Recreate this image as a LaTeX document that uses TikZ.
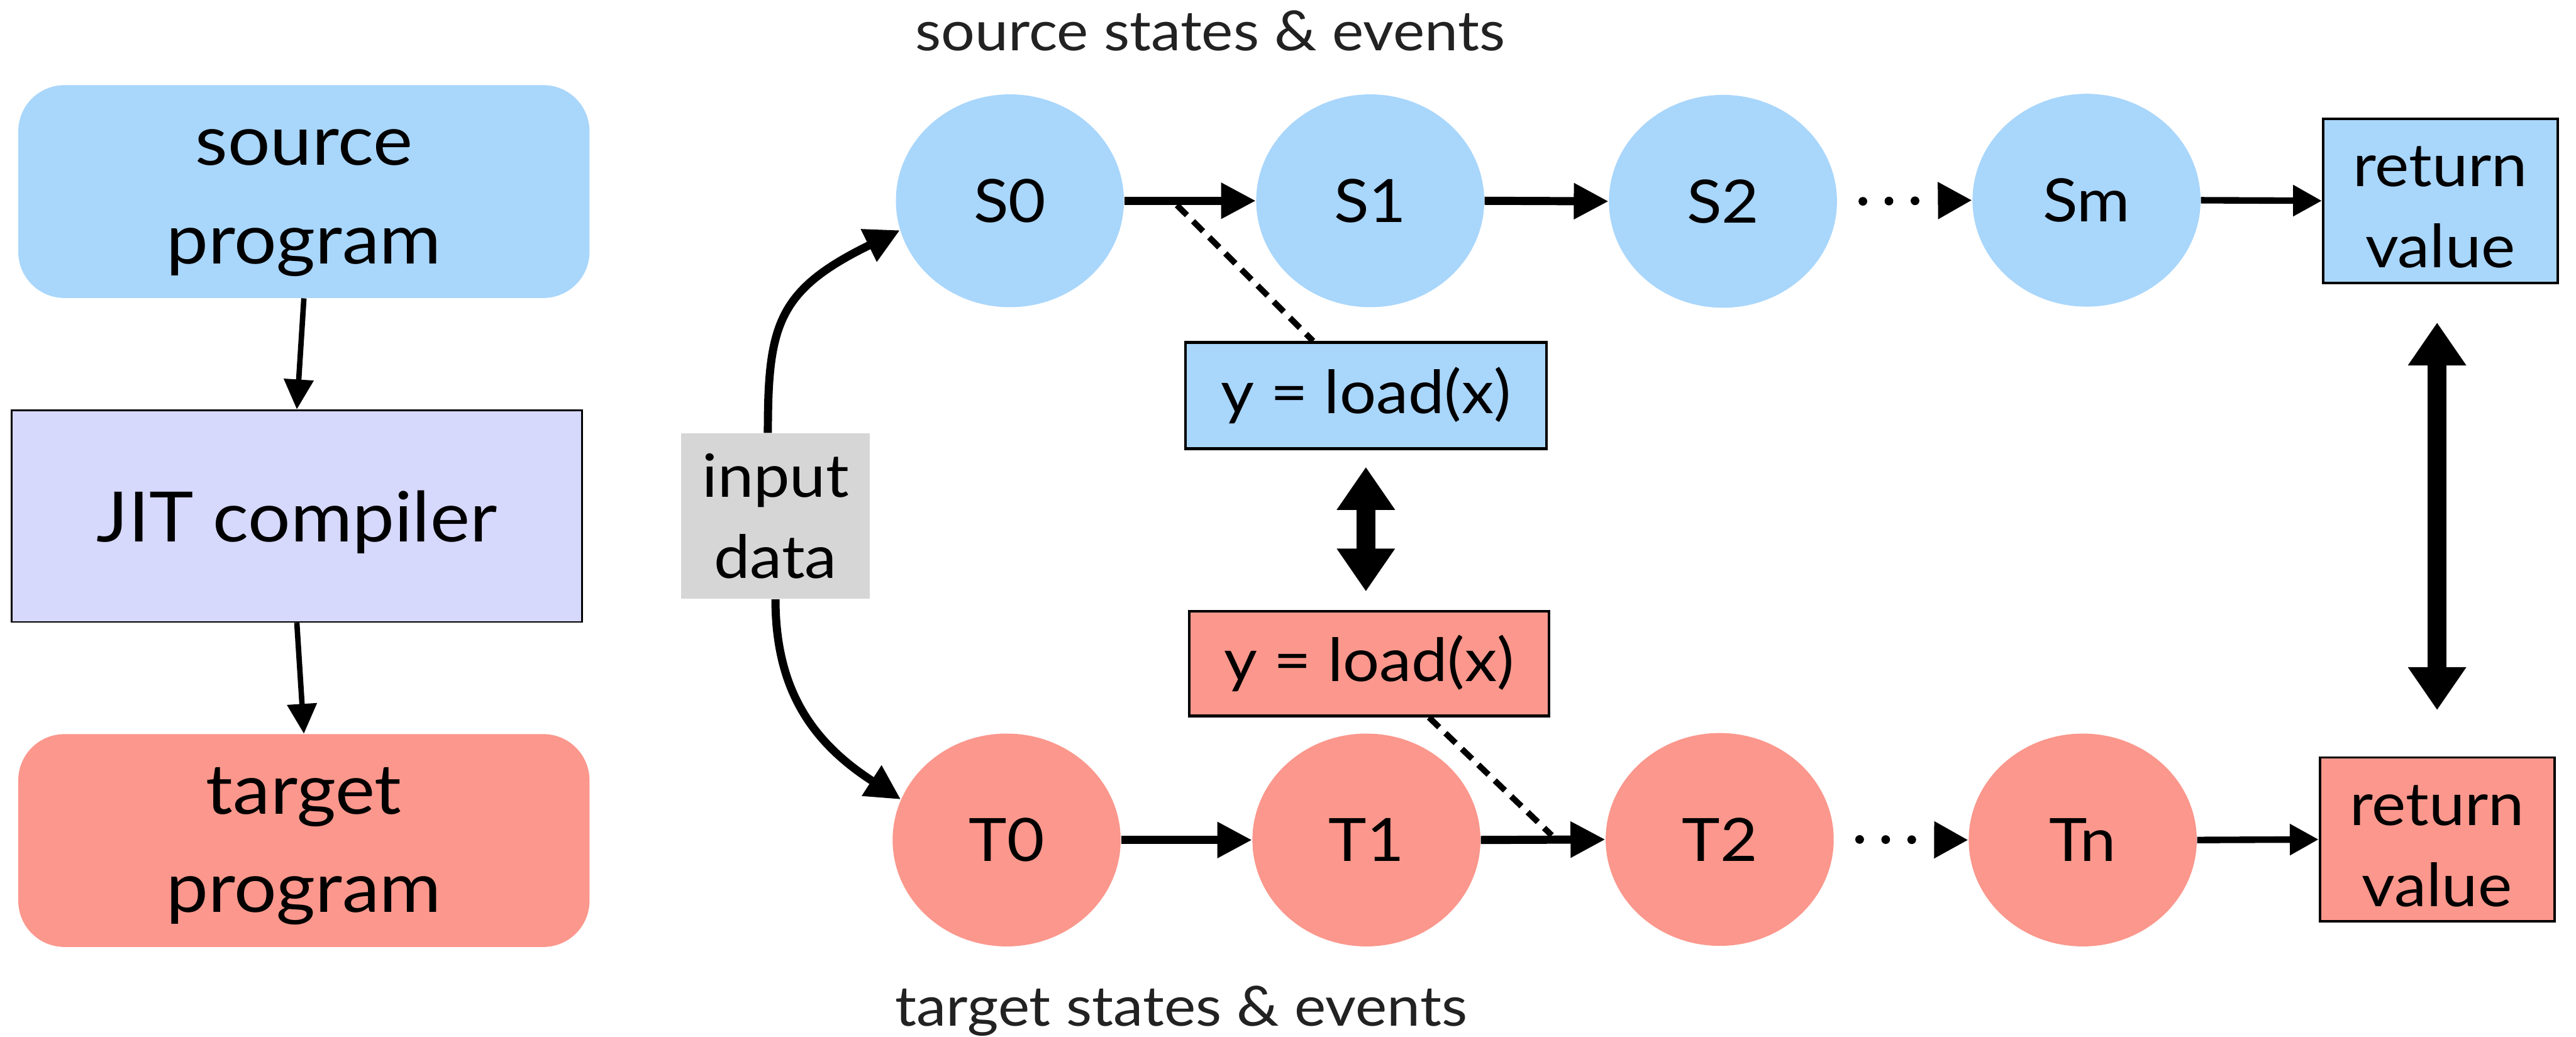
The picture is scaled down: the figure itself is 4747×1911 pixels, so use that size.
\documentclass[tikz,border=0pt]{standalone}
\usepackage{fontspec}
\setmainfont{Lato}[FakeStretch=1.08]
\usetikzlibrary{arrows.meta,shapes.geometric,calc}

\definecolor{srcblue}{HTML}{A9D6FB}
\definecolor{tgtred}{HTML}{FB978C}
\definecolor{jitlav}{HTML}{D6D8FC}
\definecolor{datagray}{HTML}{D6D6D6}
\definecolor{captiongray}{HTML}{222222}

% two centred lines, lowered by #1 without changing the reported size
\newcommand\twolines[3]{\raisebox{-#1}[\height][\depth]{\begin{tabular}{@{}c@{}}#2\\#3\end{tabular}}}

\begin{document}
\begin{tikzpicture}[x=0.01cm, y=-0.01cm,
  bigfont/.style={font=\fontsize{36.4pt}{51.5pt}\selectfont},
  labfont/.style={font=\fontsize{31.3pt}{42.5pt}\selectfont},
  progbox/.style={rectangle, rounded corners=0.85cm, minimum width=10.52cm,
    minimum height=3.92cm, inner sep=0pt, bigfont},
  state/.style={ellipse, minimum width=4.2cm, minimum height=3.92cm,
    inner sep=0pt, labfont},
  instbox/.style={rectangle, draw=black, line width=0.05cm, minimum width=6.64cm,
    minimum height=1.94cm, inner sep=0pt, labfont},
  retbox/.style={rectangle, draw=black, line width=0.045cm, minimum width=4.32cm,
    minimum height=3.02cm, inner sep=0pt, labfont},
  caption/.style={font=\fontsize{29pt}{35pt}\selectfont, text=captiongray, anchor=base},
  steparrow/.style={line width=0.15cm, -{Triangle[length=0.64cm,width=0.63cm]}},
  retarrow/.style={line width=0.12cm, -{Triangle[length=0.53cm,width=0.55cm]}},
  comparrow/.style={line width=0.10cm, -{Triangle[length=0.55cm,width=0.53cm]}},
  dotarrow/.style={line width=0.16cm, line cap=round, dash pattern=on 0pt off 0.48cm,
    -{Triangle[length=0.63cm,width=0.64cm]}},
  bigarrow/.style={line width=0.34cm,
    {Triangle[length=0.79cm,width=1.02cm]}-{Triangle[length=0.79cm,width=1.02cm]}},
  linkline/.style={line width=0.11cm, dash pattern=on 0.26cm off 0.16cm},
]
\useasboundingbox (0,0) rectangle (4747,1911);

% compilation pipeline
\node[progbox, fill=srcblue] (src) at (560,353) {\twolines{0.06cm}{source}{program}};
\node[rectangle, draw=black, line width=0.03cm, fill=jitlav, minimum width=10.51cm,
  minimum height=3.9cm, inner sep=0pt, bigfont] (jit) at (547,951)
  {\raisebox{-0.11cm}[\height][\depth]{JIT compiler}};
\node[progbox, fill=tgtred] (tgt) at (560,1549) {\twolines{0.05cm}{target}{program}};

\draw[comparrow] (src.south) -- (jit.north);
\draw[comparrow] (jit.south) -- (tgt.north);

% captions
\node[caption] (capS) at (2230,93) {source states \& events};
\node[caption] (capT) at (2177,1891) {target states \& events};

% source execution
\node[state, fill=srcblue] (S0) at (1861,370) {S0};
\node[state, fill=srcblue] (S1) at (2525,370) {S1};
\node[state, fill=srcblue] (S2) at (3175,371) {S2};
\node[state, fill=srcblue] (Sm) at (3845,369) {Sm};
\node[retbox, fill=srcblue] (retS) at (4497,370) {\twolines{0.19cm}{return}{value}};

% target execution
\node[state, fill=tgtred] (T0) at (1855,1548) {T0};
\node[state, fill=tgtred] (T1) at (2518,1548) {T1};
\node[state, fill=tgtred] (T2) at (3169,1547) {T2};
\node[state, fill=tgtred] (Tn) at (3838,1548) {Tn};
\node[retbox, fill=tgtred] (retT) at (4491,1547) {\twolines{0.19cm}{return}{value}};

% matching load events
\node[instbox, fill=srcblue, minimum width=6.65cm, minimum height=1.96cm] (loadS) at (2517,729) {y = load(x)};
\node[instbox, fill=tgtred, minimum width=6.63cm, minimum height=1.93cm] (loadT) at (2523,1223) {y = load(x)};

% shared input
\node[fill=datagray, minimum width=3.48cm, minimum height=3.05cm, inner sep=0pt, labfont]
  (inp) at (1429,951) {\twolines{0.1cm}{input}{data}};

% links from the load events to the steps that perform them
\coordinate (tapS) at ($(S0.east)!0.4!(S1.west)+(0,8)$);
\coordinate (tapT) at ($(T1.east)!0.57!(T2.west)+(0,-8)$);
\draw[linkline] (tapS) -- ($(loadS.north west)!0.355!(loadS.north east)$);
\draw[linkline] ($(loadT.south west)!0.665!(loadT.south east)$) -- (tapT);

% steps
\draw[steparrow] (S0.east) -- (S1.west);
\draw[steparrow] (S1.east) -- (S2.west);
\draw[dotarrow] ([xshift=0.47cm]S2.east) -- (Sm.west);
\draw[retarrow] (Sm.east) -- (retS.west);

\draw[steparrow] (T0.east) -- (T1.west);
\draw[steparrow] (T1.east) -- (T2.west);
\draw[dotarrow] ([xshift=0.47cm]T2.east) -- (Tn.west);
\draw[retarrow] (Tn.east) -- (retT.west);

% input feeds both executions
\draw[steparrow] ([xshift=-0.14cm]inp.north) .. controls +(0,-200) and +(-225,110) .. (S0.195);
\draw[steparrow] (inp.south) .. controls +(0,170) and +(-160,-103) .. (T0.159);

% correspondences
\draw[bigarrow, shorten <=0.31cm, shorten >=0.34cm] (loadS.south) -- (loadS.south |- loadT.north);
\draw[bigarrow, shorten <=0.71cm, shorten >=0.85cm] (retT.north |- retS.south) -- (retT.north);
\end{tikzpicture}
\end{document}
